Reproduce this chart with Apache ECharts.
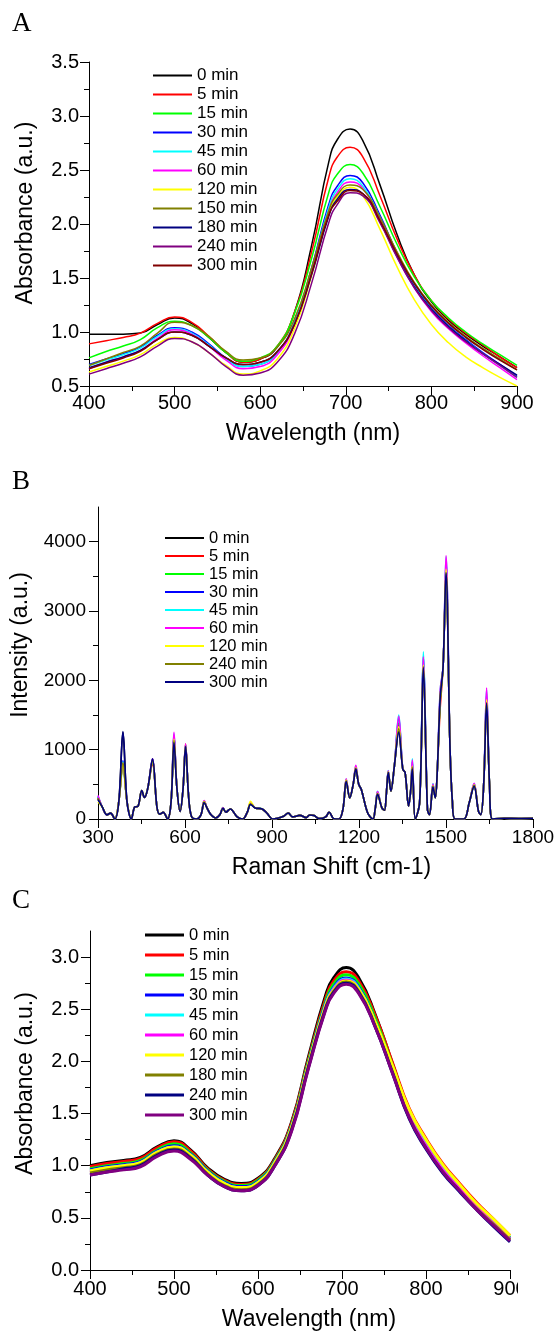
<!DOCTYPE html>
<html>
<head>
<meta charset="utf-8">
<script src="https://cdn.jsdelivr.net/npm/echarts@6/dist/echarts.min.js"></script>
<style>
  html, body { margin: 0; padding: 0; background: #fff; }
  #wrap { position: relative; width: 560px; height: 1338px; overflow: hidden; background: #fff; }
  .panel { position: absolute; left: 0; }
  #chartA { top: 0; width: 560px; height: 455px; }
  #chartB { top: 455px; width: 560px; height: 430px; }
  #chartC { top: 885px; width: 518px; height: 453px; }
</style>
</head>
<body>
<div id="wrap">
  <div id="chartA" class="panel"></div>
  <div id="chartB" class="panel"></div>
  <div id="chartC" class="panel"></div>
</div>
<script>
// ---------- Panel A: UV-Vis absorbance over time ----------
const wavelengthA = [400,420,440,460,480,500,520,540,560,580,600,620,640,660,680,690,705,720,740,760,780,800,820,840,860,880,900];
const timesA = ['0 min','5 min','15 min','30 min','45 min','60 min','120 min','150 min','180 min','240 min','300 min'];
const colorsA = ['#000000','#ff0000','#00ff00','#0000ff','#00ffff','#ff00ff','#ffff00','#808000','#000080','#800080','#800000'];
const absA_0   = [0.98,0.98,0.98,0.99,1.07,1.13,1.08,0.95,0.81,0.72,0.75,0.86,1.18,1.80,2.57,2.78,2.88,2.77,2.36,1.90,1.53,1.28,1.11,0.98,0.87,0.77,0.67];
const absA_5   = [0.89,0.92,0.95,0.99,1.08,1.14,1.09,0.96,0.81,0.72,0.75,0.87,1.18,1.74,2.43,2.62,2.71,2.62,2.26,1.86,1.53,1.29,1.12,0.99,0.88,0.77,0.67];
const absA_15  = [0.76,0.82,0.87,0.93,1.04,1.10,1.06,0.95,0.81,0.73,0.76,0.87,1.17,1.68,2.29,2.46,2.55,2.47,2.16,1.81,1.51,1.29,1.13,1.00,0.89,0.79,0.69];
const absA_30  = [0.70,0.75,0.80,0.86,0.97,1.04,1.00,0.89,0.76,0.68,0.70,0.81,1.09,1.59,2.18,2.35,2.45,2.38,2.08,1.73,1.44,1.22,1.06,0.93,0.81,0.70,0.59];
const absA_45  = [0.69,0.74,0.79,0.85,0.96,1.03,0.99,0.88,0.75,0.68,0.70,0.81,1.08,1.57,2.15,2.32,2.42,2.35,2.06,1.71,1.43,1.21,1.05,0.92,0.80,0.69,0.58];
const absA_60  = [0.66,0.72,0.77,0.83,0.94,1.02,0.98,0.87,0.74,0.66,0.68,0.79,1.06,1.54,2.12,2.29,2.39,2.33,2.04,1.69,1.41,1.19,1.03,0.90,0.78,0.67,0.56];
const absA_120 = [0.63,0.68,0.73,0.79,0.89,0.95,0.91,0.81,0.69,0.61,0.64,0.75,1.03,1.52,2.09,2.25,2.34,2.26,1.95,1.60,1.30,1.07,0.90,0.77,0.67,0.58,0.50];
const absA_150 = [0.69,0.75,0.81,0.87,0.99,1.09,1.06,0.96,0.82,0.74,0.76,0.86,1.12,1.59,2.12,2.27,2.36,2.32,2.06,1.74,1.46,1.25,1.09,0.96,0.85,0.75,0.65];
const absA_180 = [0.67,0.72,0.77,0.83,0.93,1.00,0.97,0.87,0.76,0.70,0.72,0.82,1.07,1.53,2.07,2.23,2.32,2.28,2.02,1.70,1.42,1.21,1.05,0.92,0.80,0.70,0.60];
const absA_240 = [0.61,0.66,0.71,0.77,0.87,0.94,0.91,0.81,0.68,0.60,0.62,0.72,0.98,1.45,2.01,2.18,2.29,2.26,2.01,1.69,1.41,1.20,1.04,0.91,0.80,0.69,0.58];
const absA_300 = [0.66,0.71,0.76,0.82,0.93,1.00,0.97,0.87,0.76,0.70,0.72,0.82,1.07,1.54,2.08,2.21,2.31,2.28,2.03,1.72,1.45,1.24,1.08,0.95,0.84,0.74,0.65];
const absA = [absA_0,absA_5,absA_15,absA_30,absA_45,absA_60,absA_120,absA_150,absA_180,absA_240,absA_300];

// ---------- Panel B: Raman spectra over time ----------
const timesB = ['0 min','5 min','15 min','30 min','45 min','60 min','120 min','240 min','300 min'];
const colorsB = ['#000000','#ff0000','#00ff00','#0000ff','#00ffff','#ff00ff','#ffff00','#808000','#000080'];
// [Raman shift, intensity] shared profile between the bands
const ramanProfile = [
  [300,290],[315,170],[331,60],[343,85],[358,0],[372,260],[386,1250],[400,250],[415,0],[427,175],
  [437,180],[451,410],[460,310],[472,450],[488,860],[503,180],[513,70],[525,95],[540,0],[552,250],
  [562,1120],[572,450],[583,110],[593,420],[602,1050],[612,350],[622,40],[639,0],[655,60],[666,240],
  [677,150],[688,70],[706,15],[720,60],[731,155],[741,97],[756,145],[780,30],[799,0],[815,100],
  [826,215],[842,160],[866,145],[882,87],[903,0],[940,40],[956,87],[971,30],[996,53],[1018,20],
  [1030,58],[1045,49],[1063,5],[1085,30],[1097,97],[1113,5],[1131,0],[1145,150],[1156,545],[1168,305],
  [1180,500],[1189,725],[1199,500],[1208,427],[1230,87],[1248,0],[1256,150],[1264,360],[1279,160],[1288,126],
  [1294,350],[1301,670],[1310,403],[1322,767],[1337,1260],[1351,718],[1359,670],[1371,185],[1378,400],[1384,740],
  [1394,0],[1409,233],[1422,2150],[1436,136],[1443,63],[1455,470],[1463,306],[1470,700],[1480,1750],[1490,2200],
  [1500,3500],[1514,1000],[1522,250],[1531,0],[1562,0],[1580,233],[1597,480],[1612,110],[1620,63],[1630,500],
  [1640,1650],[1650,500],[1660,0],[1700,10],[1750,8],[1800,10]
];
// band maxima for each time point
const ramanBands = [300,386,488,562,602,666,731,826,1156,1189,1264,1301,1337,1384,1422,1455,1480,1500,1597,1640];
const bandsB_0   = [290,1250,860,1120,1050,240,155,215,545,725,360,670,1260,740,2150,470,1750,3500,480,1650];
const bandsB_5   = [300,800,800,1200,1080,250,160,220,560,740,370,680,1350,770,2250,490,1600,3450,490,1700];
const bandsB_15  = [310,760,830,1180,1060,250,165,215,555,735,375,675,1380,780,2280,480,1700,3550,490,1720];
const bandsB_30  = [320,840,850,1200,1060,255,160,225,565,750,390,690,1450,820,2350,500,1800,3700,500,1800];
const bandsB_45  = [330,820,860,1230,1070,260,160,230,575,765,400,700,1500,870,2410,510,1850,3780,510,1870];
const bandsB_60  = [340,800,870,1250,1080,265,160,235,580,775,395,695,1480,850,2340,505,1850,3800,515,1890];
const bandsB_120 = [250,780,840,1150,1040,250,150,255,560,740,370,680,1330,760,2220,480,1750,3600,495,1720];
const bandsB_240 = [300,810,850,1130,1050,245,155,220,550,730,365,675,1300,750,2200,475,1750,3550,485,1680];
const bandsB_300 = [280,1260,870,1100,1040,235,155,210,540,720,355,670,1250,720,2180,460,1750,3550,470,1670];
const bandsB = [bandsB_0,bandsB_5,bandsB_15,bandsB_30,bandsB_45,bandsB_60,bandsB_120,bandsB_240,bandsB_300];

// ---------- Panel C: UV-Vis absorbance, second sample ----------
const wavelengthC = [400,420,440,460,480,500,520,540,560,580,600,620,640,660,680,690,705,720,740,760,780,800,820,840,860,880,900];
const timesC = ['0 min','5 min','15 min','30 min','45 min','60 min','120 min','180 min','240 min','300 min'];
const colorsC = ['#000000','#ff0000','#00ff00','#0000ff','#00ffff','#ff00ff','#ffff00','#808000','#000080','#800080'];
const absC_0   = [1.00,1.03,1.05,1.08,1.18,1.24,1.15,0.98,0.87,0.83,0.88,1.07,1.42,2.04,2.62,2.80,2.90,2.80,2.44,1.98,1.53,1.23,0.99,0.80,0.62,0.46,0.30];
const absC_5   = [0.99,1.02,1.04,1.07,1.17,1.23,1.14,0.97,0.86,0.82,0.87,1.06,1.41,2.02,2.59,2.77,2.86,2.77,2.43,1.99,1.55,1.26,1.02,0.83,0.65,0.49,0.33];
const absC_15  = [0.97,1.00,1.02,1.05,1.15,1.21,1.12,0.96,0.85,0.81,0.86,1.05,1.39,2.00,2.56,2.74,2.83,2.74,2.40,1.96,1.52,1.23,0.99,0.81,0.63,0.47,0.31];
const absC_30  = [0.96,0.99,1.01,1.04,1.14,1.19,1.11,0.95,0.84,0.80,0.85,1.04,1.38,1.98,2.54,2.71,2.80,2.71,2.37,1.94,1.50,1.21,0.98,0.80,0.62,0.46,0.30];
const absC_45  = [0.95,0.98,1.00,1.03,1.13,1.18,1.10,0.94,0.83,0.79,0.84,1.03,1.37,1.97,2.53,2.70,2.79,2.70,2.36,1.93,1.49,1.20,0.97,0.79,0.61,0.46,0.30];
const absC_60  = [0.94,0.97,0.99,1.02,1.12,1.17,1.09,0.93,0.82,0.78,0.83,1.02,1.36,1.96,2.52,2.69,2.78,2.69,2.35,1.92,1.48,1.19,0.96,0.78,0.61,0.45,0.30];
const absC_120 = [0.95,0.98,1.00,1.03,1.13,1.18,1.10,0.94,0.83,0.79,0.84,1.03,1.37,1.97,2.52,2.68,2.77,2.69,2.37,1.96,1.54,1.25,1.01,0.82,0.64,0.49,0.33];
const absC_180 = [0.93,0.96,0.98,1.01,1.11,1.16,1.08,0.92,0.81,0.77,0.82,1.01,1.35,1.95,2.50,2.67,2.76,2.67,2.33,1.90,1.46,1.17,0.94,0.76,0.59,0.44,0.29];
const absC_240 = [0.91,0.94,0.97,1.00,1.10,1.15,1.07,0.91,0.80,0.76,0.81,1.00,1.34,1.94,2.49,2.66,2.75,2.66,2.32,1.89,1.45,1.16,0.93,0.75,0.58,0.42,0.27];
const absC_300 = [0.91,0.94,0.96,0.99,1.09,1.14,1.06,0.91,0.80,0.76,0.81,1.00,1.33,1.93,2.48,2.65,2.74,2.65,2.32,1.89,1.46,1.17,0.94,0.76,0.58,0.43,0.28];
const absC = [absC_0,absC_5,absC_15,absC_30,absC_45,absC_60,absC_120,absC_180,absC_240,absC_300];

// ---------- shared styling ----------
const SANS = '"Liberation Sans", Arial, sans-serif';
const SERIF = '"Liberation Serif", "Times New Roman", serif';

function valueAxis(o) {
  return {
    type: 'value',
    min: o.min, max: o.max, interval: o.interval,
    name: o.name, nameLocation: 'middle', nameGap: o.nameGap,
    nameTextStyle: { fontFamily: SANS, fontSize: 23, color: '#000', padding: o.namePad },
    axisLine: { show: true, onZero: false, lineStyle: { color: '#000', width: 1 } },
    axisTick: { show: true, inside: false, length: 9, lineStyle: { color: '#000', width: 1 }, customValues: o.ticks },
    minorTick: { show: true, splitNumber: 2, length: 5, lineStyle: { color: '#000', width: 1 } },
    axisLabel: { fontFamily: SANS, fontSize: o.fontSize, color: '#000', margin: o.margin,
                 formatter: o.fmt, customValues: o.ticks },
    splitLine: { show: false }
  };
}

function lineSeries(name, color, xs, ys, width, smooth) {
  return {
    type: 'line', name: name, symbol: 'none', smooth: smooth,
    data: xs.map((x, i) => [x, ys[i]]),
    lineStyle: { color: color, width: width },
    itemStyle: { color: color },
    silent: true
  };
}

function legendOf(names, left, top, fontSize, lineHeight, iconH) {
  return {
    orient: 'vertical', left: left, top: top, padding: 0, itemGap: 0,
    itemWidth: 39, itemHeight: iconH, icon: 'rect', selectedMode: false,
    textStyle: { fontFamily: SANS, fontSize: fontSize, color: '#000', lineHeight: lineHeight },
    data: names
  };
}

function panelLetter(letter, top) {
  return { type: 'text', left: 12, top: top,
           style: { text: letter, fontFamily: SERIF, fontSize: 27, fill: '#000' } };
}

const fmt1 = v => v.toFixed(1);
const fmtInt = v => String(v);

// ---------- chart A ----------
const chartA = echarts.init(document.getElementById('chartA'), null, { renderer: 'canvas' });
chartA.setOption({
  animation: false,
  grid: { left: 89, top: 62, width: 428, height: 324, outerBoundsMode: 'none' },
  xAxis: valueAxis({ min: 400, max: 900, interval: 100, name: 'Wavelength (nm)', nameGap: 36,
                     namePad: [0, 0, 0, 20], fontSize: 20, margin: 7, fmt: fmtInt }),
  yAxis: valueAxis({ min: 0.5, max: 3.5, interval: 0.5, name: 'Absorbance (a.u.)', nameGap: 52,
                     namePad: [0, 0, 0, 22], fontSize: 20, margin: 10, fmt: fmt1 }),
  legend: legendOf(timesA, 153, 66, 17, 19, 2),
  graphic: [panelLetter('A', 10)],
  series: timesA.map((t, i) => lineSeries(t, colorsA[i], wavelengthA, absA[i], 1.5, 0.5))
});

// ---------- chart B ----------
const chartB = echarts.init(document.getElementById('chartB'), null, { renderer: 'canvas' });
const ramanSeries = timesB.map((t, s) => {
  const ys = ramanProfile.map(p => {
    const k = ramanBands.indexOf(p[0]);
    return k >= 0 ? bandsB[s][k] : p[1];
  });
  return lineSeries(t, colorsB[s], ramanProfile.map(p => p[0]), ys, 1.6, 0.35);
});
chartB.setOption({
  animation: false,
  grid: { left: 98, top: 52, width: 435, height: 312, outerBoundsMode: 'none' },
  xAxis: valueAxis({ min: 300, max: 1800, interval: 300, name: 'Raman Shift (cm-1)', nameGap: 37,
                     namePad: [0, 0, 0, 32], fontSize: 19, margin: 9, fmt: fmtInt }),
  yAxis: valueAxis({ min: 0, max: 4500, interval: 1000, name: 'Intensity (a.u.)', nameGap: 66,
                     namePad: [0, 0, 0, 36], fontSize: 19, margin: 12, fmt: fmtInt,
                     ticks: [0, 1000, 2000, 3000, 4000] }),
  legend: legendOf(timesB, 165, 74, 16.5, 18, 2),
  graphic: [panelLetter('B', 13)],
  series: ramanSeries
});

// ---------- chart C ----------
const chartC = echarts.init(document.getElementById('chartC'), null, { renderer: 'canvas' });
chartC.setOption({
  animation: false,
  grid: { left: 90, top: 46, width: 420, height: 339, outerBoundsMode: 'none' },
  xAxis: valueAxis({ min: 400, max: 900, interval: 100, name: 'Wavelength (nm)', nameGap: 38,
                     namePad: [0, 0, 0, 18], fontSize: 20, margin: 9, fmt: fmtInt }),
  yAxis: valueAxis({ min: 0, max: 3.25, interval: 0.5, name: 'Absorbance (a.u.)', nameGap: 53,
                     namePad: [0, 0, 0, 34], fontSize: 20, margin: 11, fmt: fmt1,
                     ticks: [0, 0.5, 1, 1.5, 2, 2.5, 3] }),
  legend: legendOf(timesC, 145, 40, 16.5, 20, 3),
  graphic: [panelLetter('C', 2)],
  series: timesC.map((t, i) => lineSeries(t, colorsC[i], wavelengthC, absC[i], 3, 0.5))
});
</script>
</body>
</html>
